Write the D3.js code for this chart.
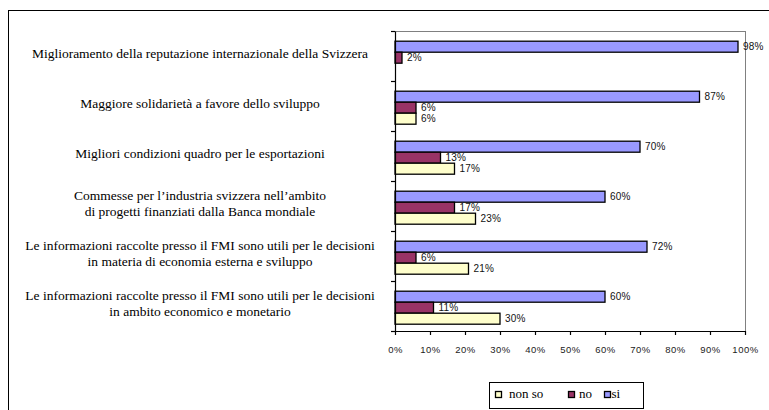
<!DOCTYPE html>
<html><head><meta charset="utf-8">
<script src="https://cdn.jsdelivr.net/npm/d3@7"></script>
<style>body{margin:0;background:#fff} svg{display:block}</style>
</head><body>
<svg id="chart" width="769" height="410"></svg>
<script>
// Survey statements (line breaks with "\n")
const categories = [
  "Miglioramento della reputazione internazionale della Svizzera",
  "Maggiore solidarietà a favore dello sviluppo",
  "Migliori condizioni quadro per le esportazioni",
  "Commesse per l’industria svizzera nell’ambito\ndi progetti finanziati dalla Banca mondiale",
  "Le informazioni raccolte presso il FMI sono utili per le decisioni\nin materia di economia esterna e sviluppo",
  "Le informazioni raccolte presso il FMI sono utili per le decisioni\nin ambito economico e monetario"
];
// Answer shares in percent
const siValues    = [98, 87, 70, 60, 72, 60];
const noValues    = [2, 6, 13, 17, 6, 11];
const nonSoValues = [null, 6, 17, 23, 21, 30];
const seriesNames = ["si", "no", "non so"];
const legendOrder = ["non so", "no", "si"];
const xTicks = [0, 10, 20, 30, 40, 50, 60, 70, 80, 90, 100];

const seriesValues = { "si": siValues, "no": noValues, "non so": nonSoValues };
const colors = { "si": "#9999ff", "no": "#993366", "non so": "#ffffcc" };

const svg = d3.select("#chart");
const sans = "'Liberation Sans', Arial, sans-serif";
const serif = "'Liberation Serif', 'Times New Roman', serif";

// outer frame
svg.append("rect").attr("x", 8.5).attr("y", 10.5).attr("width", 900).attr("height", 600)
  .attr("fill", "#fff").attr("stroke", "#000").attr("stroke-width", 1);

const x = d3.scaleLinear().domain([0, 100]).range([395, 745]);
const yEdge = d3.scaleLinear().domain([0, categories.length]).range([31, 331]);
const y = d3.scaleBand().domain(d3.range(categories.length)).range([31, 331])
  .paddingInner(0.34).paddingOuter(0.17).align(0.6);
const ySub = d3.scaleBand().domain(seriesNames).range([0, y.bandwidth()]);

// plot area border
svg.append("rect").attr("x", x(0) + 0.5).attr("y", yEdge(0) + 0.5)
  .attr("width", x(100) - x(0)).attr("height", yEdge(6) - yEdge(0))
  .attr("fill", "none").attr("stroke", "#808080").attr("stroke-width", 1);

// bars and value labels, series by series
seriesNames.forEach(s => {
  const g = svg.append("g");
  const data = seriesValues[s].map((v, i) => ({ v, i })).filter(d => d.v != null);
  g.selectAll("rect").data(data).join("rect")
    .attr("x", x(0))
    .attr("y", d => y(d.i) + ySub(s))
    .attr("width", d => x(d.v) - x(0))
    .attr("height", ySub.bandwidth())
    .attr("fill", colors[s]).attr("stroke", "#000").attr("stroke-width", 1.3);
  g.selectAll("text").data(data).join("text")
    .attr("x", d => x(d.v) + 5)
    .attr("y", d => y(d.i) + ySub(s) + ySub.bandwidth() / 2 + 0.5)
    .attr("dominant-baseline", "middle")
    .attr("font-family", sans).attr("font-size", 10).attr("fill", "#111")
    .attr("letter-spacing", 0.2)
    .text(d => d.v + "%");
});

// category axis
const yAxis = svg.append("g").attr("transform", `translate(${x(0)},0)`)
  .call(d3.axisLeft(yEdge).tickValues(d3.range(categories.length + 1)).tickFormat("").tickSize(4).tickSizeOuter(0));
yAxis.selectAll("path,line").attr("stroke", "#000").attr("stroke-width", 1.2);

// value axis
const xAxis = svg.append("g").attr("transform", `translate(0,${yEdge(6)})`)
  .call(d3.axisBottom(x).tickValues(xTicks).tickFormat(d => d + "%").tickSize(4).tickSizeOuter(0).tickPadding(11));
xAxis.selectAll("path,line").attr("stroke", "#000").attr("stroke-width", 1.2);
xAxis.selectAll("text").attr("font-family", sans).attr("font-size", 9.5).attr("fill", "#222")
  .attr("letter-spacing", 0.5);

// category labels
categories.forEach((c, i) => {
  const lines = c.split("\n");
  const cy = yEdge(i + 0.5) - 1;
  const t = svg.append("text").attr("text-anchor", "middle")
    .attr("font-family", serif).attr("font-size", 13.5).attr("fill", "#000");
  lines.forEach((ln, k) => {
    t.append("tspan").attr("x", 200)
      .attr("y", cy + (k - (lines.length - 1) / 2) * 15.5)
      .attr("dominant-baseline", "middle").text(ln);
  });
});

// legend
const lg = svg.append("g");
lg.append("rect").attr("x", 489.5).attr("y", 382.5).attr("width", 154).attr("height", 26)
  .attr("fill", "#fff").attr("stroke", "#000").attr("stroke-width", 1);
const legendX = { "non so": 495, "no": 568, "si": 604 };
const legendTextX = { "non so": 509, "no": 579, "si": 611.5 };
legendOrder.forEach(s => {
  lg.append("rect").attr("x", legendX[s] + 0.5).attr("y", 391.5).attr("width", 6).attr("height", 6)
    .attr("fill", colors[s]).attr("stroke", "#000").attr("stroke-width", 1.3);
  lg.append("text").attr("x", legendTextX[s]).attr("y", 395).attr("dominant-baseline", "middle")
    .attr("font-family", serif).attr("font-size", 13).attr("fill", "#000").text(s);
});
</script>
</body></html>
